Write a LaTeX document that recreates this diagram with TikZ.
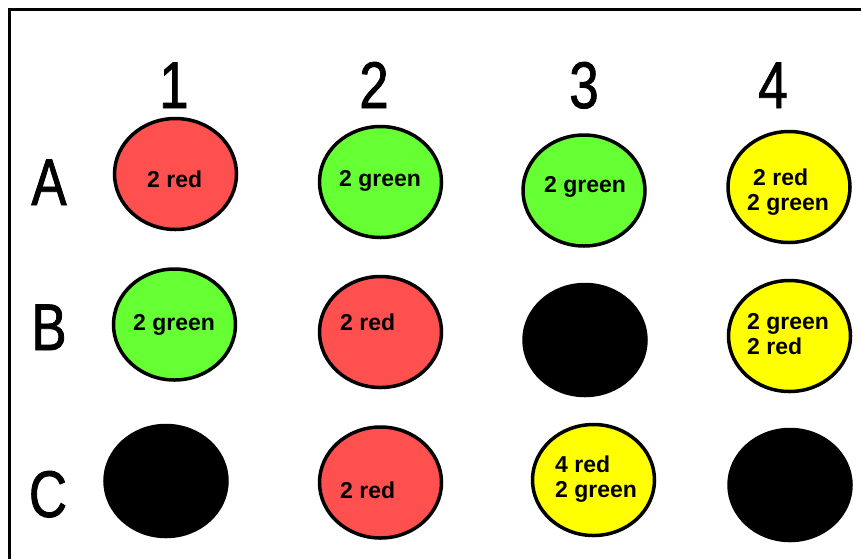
\documentclass[tikz,border=0pt]{standalone}
\usepackage{fontspec}
\setmainfont{Liberation Sans}
\newfontfamily\headfont[FakeStretch=0.8,FakeBold=1.2]{Liberation Sans}
\usetikzlibrary{shapes.geometric}
\definecolor{wellred}{RGB}{255,80,80}
\definecolor{wellgreen}{RGB}{102,255,51}
\definecolor{wellyellow}{RGB}{255,255,0}
\tikzset{
  well/.style={ellipse, draw=black, line width=3.5pt, minimum width=122pt, minimum height=111pt, inner sep=0pt},
  redwell/.style={well, fill=wellred},
  greenwell/.style={well, fill=wellgreen},
  yellowwell/.style={well, fill=wellyellow},
  blackwell/.style={well, fill=black},
  lbl/.style={anchor=base west, inner sep=0pt, align=left, font=\bfseries\fontsize{23}{25}\selectfont},
  head/.style={anchor=base, inner sep=0pt, font=\headfont\fontsize{66}{66}\selectfont}
}
\begin{document}
\begin{tikzpicture}[x=1pt,y=-1pt]
\useasboundingbox (0,0) rectangle (861,558);
\clip (0,0) rectangle (861,558);
\fill[white] (0,0) rectangle (861,558);
\coordinate (fc) at (9.5,9.5);
\draw[line width=3pt] (9.5,570) -- (fc) -- (880,9.5);
% column headers
\node[head] (h1) at (174,108) {1};
\node[head] (h2) at (374,108) {2};
\node[head] (h3) at (584,108) {3};
\node[head] (h4) at (773,108) {4};
% row headers
\node[head] (rA) at (49,205) {A};
\node[head] (rB) at (49,350) {B};
\node[head] (rC) at (48,517) {C};
% wells
\node[redwell] (a1) at (175.5,174) {};
\node[greenwell] (a2) at (380.5,182) {};
\node[greenwell] (a3) at (584,190.5) {};
\node[yellowwell] (a4) at (789,187) {};
\node[greenwell] (b1) at (174.5,324.5) {};
\node[redwell] (b2) at (380.5,332) {};
\node[blackwell] (b3) at (585,340) {};
\node[yellowwell] (b4) at (789.5,336) {};
\node[blackwell] (c1) at (166,481) {};
\node[redwell] (c2) at (380.5,482.5) {};
\node[yellowwell] (c3) at (593.5,480) {};
\node[blackwell] (c4) at (790,485) {};
% labels
\node[lbl] (ta1) at (147,187) {2 red};
\node[lbl] (ta2) at (339,186) {2 green};
\node[lbl] (ta3) at (544,192) {2 green};
\node[lbl] (ta4a) at (753,185) {2 red};
\node[lbl] (ta4b) at (747,210) {2 green};
\node[lbl] (tb1) at (133,330) {2 green};
\node[lbl] (tb2) at (340,330) {2 red};
\node[lbl] (tb4) at (747,354) {2 green\\2 red};
\node[lbl] (tc2) at (340,498) {2 red};
\node[lbl] (tc3) at (555,497) {4 red\\2 green};
\end{tikzpicture}
\end{document}
